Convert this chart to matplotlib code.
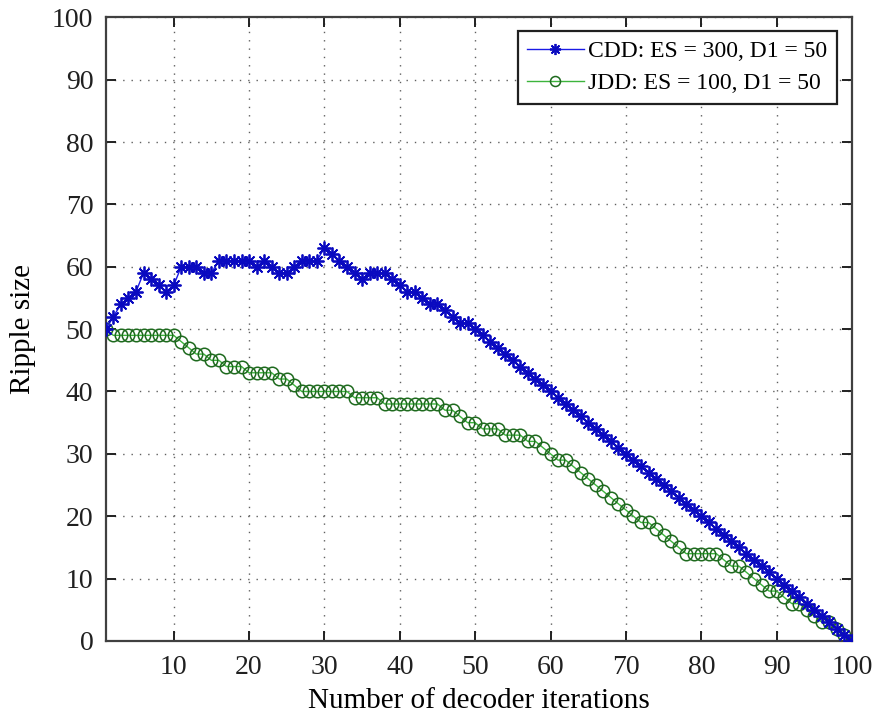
import matplotlib
matplotlib.use("Agg")
import matplotlib.pyplot as plt

# decoder iterations 1..100
iterations = list(range(1, 101))

cdd_ripple = [
    50, 52, 54, 55, 56, 59, 58, 57, 56, 57,
    60, 60, 60, 59, 59, 61, 61, 61, 61, 61,
    60, 61, 60, 59, 59, 60, 61, 61, 61, 63,
    62, 61, 60, 59, 58, 59, 59, 59, 58, 57,
    56, 56, 55, 54, 54, 53, 52, 51, 51, 50,
    49, 48, 47, 46, 45, 44, 43, 42, 41, 40,
    39, 38, 37, 36, 35, 34, 33, 32, 31, 30,
    29, 28, 27, 26, 25, 24, 23, 22, 21, 20,
    19, 18, 17, 16, 15, 14, 13, 12, 11, 10,
    9, 8, 7, 6, 5, 4, 3, 2, 1, 0,
]

jdd_ripple = [
    50, 49, 49, 49, 49, 49, 49, 49, 49, 49,
    48, 47, 46, 46, 45, 45, 44, 44, 44, 43,
    43, 43, 43, 42, 42, 41, 40, 40, 40, 40,
    40, 40, 40, 39, 39, 39, 39, 38, 38, 38,
    38, 38, 38, 38, 38, 37, 37, 36, 35, 35,
    34, 34, 34, 33, 33, 33, 32, 32, 31, 30,
    29, 29, 28, 27, 26, 25, 24, 23, 22, 21,
    20, 19, 19, 18, 17, 16, 15, 14, 14, 14,
    14, 14, 13, 12, 12, 11, 10, 9, 8, 8,
    7, 6, 6, 5, 4, 3, 3, 2, 1, 0,
]

x_ticks = [10, 20, 30, 40, 50, 60, 70, 80, 90, 100]
y_ticks = [0, 10, 20, 30, 40, 50, 60, 70, 80, 90, 100]

plt.rcParams["font.family"] = ["Liberation Serif", "DejaVu Serif"]

fig = plt.figure(figsize=(8.82, 7.19), dpi=100)
ax = fig.add_axes([0.120, 0.1085, 0.846, 0.8675])

# MATLAB-style asterisk marker (8 spokes)
asterisk = (8, 2, 0)

ax.plot(
    iterations, cdd_ripple,
    color="#1a1ae6", linewidth=1.0,
    marker=asterisk, markersize=10, markeredgecolor="#0a0ac0",
    markeredgewidth=1.3,
    label="CDD: ES = 300, D1 = 50", zorder=3,
)
ax.plot(
    iterations, jdd_ripple,
    color="#3cb43c", linewidth=1.0,
    marker="o", markersize=9, markeredgecolor="#1e6a1e",
    markerfacecolor="none", markeredgewidth=1.1,
    label="JDD: ES = 100, D1 = 50", zorder=2,
)

ax.set_xlim(1, 100)
ax.set_ylim(0, 100)
ax.set_xticks(x_ticks)
ax.set_yticks(y_ticks)
ax.grid(True, linestyle=(0, (1, 5)), color="#606060", linewidth=1.0)
ax.tick_params(direction="in", length=7, width=1.4, top=True, right=True,
               labelsize=20, colors="#202020")
ax.tick_params(axis="x", pad=10)
ax.tick_params(axis="y", pad=9)
for spine in ax.spines.values():
    spine.set_linewidth(1.6)
    spine.set_color("#404040")

ax.set_xlabel("Number of decoder iterations", fontsize=21, labelpad=6)
ax.set_ylabel("Ripple size", fontsize=21)
ax.yaxis.set_label_coords(-0.094, 0.5)

legend = ax.legend(
    loc="upper right", bbox_to_anchor=(837 / 882, (719 - 31) / 719),
    bbox_transform=fig.transFigure, borderaxespad=0,
    fontsize=17, handlelength=2.4, handletextpad=0.2,
    labelspacing=0.45, fancybox=False, framealpha=1,
    edgecolor="#202020", borderpad=0.4, markerscale=0.8,
)
legend.get_frame().set_linewidth(1.6)

fig.savefig("out.png", dpi=100)
